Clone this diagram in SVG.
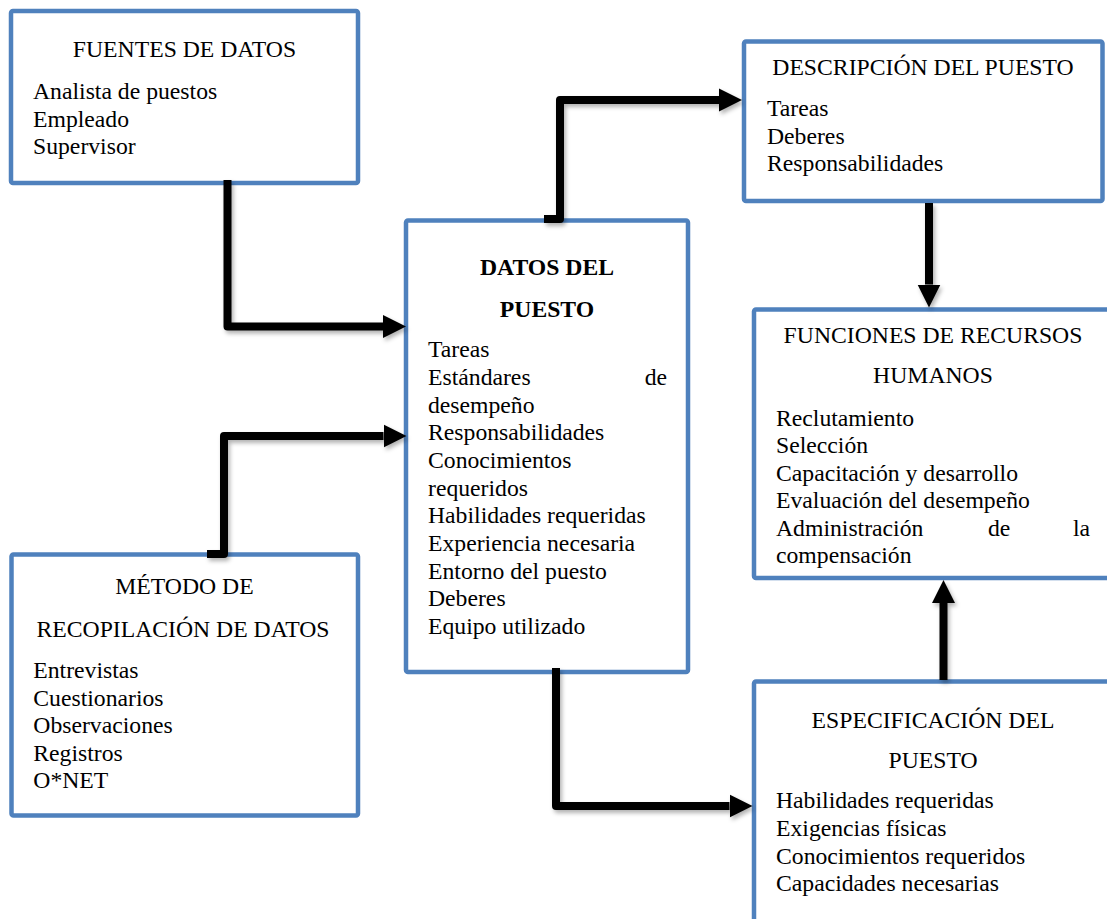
<svg xmlns="http://www.w3.org/2000/svg" width="1107" height="919" viewBox="0 0 1107 919">
<style>
  .box { fill: #ffffff; stroke: #4F81BD; stroke-width: 4.5; }
  text { font-family: "Liberation Serif", "Times New Roman", serif; font-size: 23.7px; fill: #000000; }
  .t { text-anchor: middle; }
  .b { font-weight: bold; }
  .end { text-anchor: end; }
  .conn { fill: none; stroke: #000000; stroke-width: 8; stroke-linejoin: round; stroke-linecap: butt; marker-end: url(#ah); }
</style>
<defs>
  <marker id="ah" markerUnits="userSpaceOnUse" markerWidth="24" markerHeight="24" viewBox="0 0 24 24" refX="0" refY="12" orient="auto">
    <path d="M0,0.5 L23,12 L0,23.5 Z" fill="#000000"/>
  </marker>
  <filter id="sh" x="-20%" y="-20%" width="140%" height="140%">
    <feDropShadow dx="2" dy="3" stdDeviation="2" flood-color="#000000" flood-opacity="0.3"/>
  </filter>
</defs>
<rect width="1107" height="919" fill="#ffffff"/>

<g id="fuentes">
  <rect class="box" x="11" y="11" width="347" height="172" rx="2"/>
  <text class="t" x="184.5" y="57">FUENTES DE DATOS</text>
  <text x="33" y="99">Analista de puestos</text>
  <text x="33" y="126.5">Empleado</text>
  <text x="33" y="154">Supervisor</text>
</g>

<g id="datos">
  <rect class="box" x="406" y="220.5" width="282" height="451.5" rx="2"/>
  <text class="t b" x="547" y="275">DATOS DEL</text>
  <text class="t b" x="547" y="317">PUESTO</text>
  <text x="428" y="357.3">Tareas</text>
  <text x="428" y="385">Estándares</text>
  <text class="end" x="667" y="385">de</text>
  <text x="428" y="412.6">desempeño</text>
  <text x="428" y="440.3">Responsabilidades</text>
  <text x="428" y="467.9">Conocimientos</text>
  <text x="428" y="495.6">requeridos</text>
  <text x="428" y="523.2">Habilidades requeridas</text>
  <text x="428" y="550.9">Experiencia necesaria</text>
  <text x="428" y="578.5">Entorno del puesto</text>
  <text x="428" y="606.2">Deberes</text>
  <text x="428" y="633.8">Equipo utilizado</text>
</g>

<g id="descripcion">
  <rect class="box" x="744" y="41.5" width="358.5" height="159.5" rx="2"/>
  <text class="t" x="923" y="75">DESCRIPCIÓN DEL PUESTO</text>
  <text x="767" y="116">Tareas</text>
  <text x="767" y="143.6">Deberes</text>
  <text x="767" y="171">Responsabilidades</text>
</g>

<g id="funciones">
  <rect class="box" x="754" y="309.5" width="400" height="268.5" rx="2"/>
  <text class="t" x="933" y="342.7">FUNCIONES DE RECURSOS</text>
  <text class="t" x="933" y="382.7">HUMANOS</text>
  <text x="776" y="426">Reclutamiento</text>
  <text x="776" y="453.4">Selección</text>
  <text x="776" y="480.8">Capacitación y desarrollo</text>
  <text x="776" y="508.2">Evaluación del desempeño</text>
  <text x="776" y="535.6">Administración</text>
  <text x="988" y="535.6">de</text>
  <text class="end" x="1090" y="535.6">la</text>
  <text x="776" y="563">compensación</text>
</g>

<g id="metodo">
  <rect class="box" x="11.5" y="554.5" width="346.5" height="261" rx="2"/>
  <text class="t" x="184.5" y="594.3">MÉTODO DE</text>
  <text class="t" x="183" y="636.7">RECOPILACIÓN DE DATOS</text>
  <text x="33.3" y="678.3">Entrevistas</text>
  <text x="33.3" y="705.7">Cuestionarios</text>
  <text x="33.3" y="733.2">Observaciones</text>
  <text x="33.3" y="760.6">Registros</text>
  <text x="33.3" y="788">O*NET</text>
</g>

<g id="especificacion">
  <rect class="box" x="754" y="681.5" width="400" height="400" rx="2"/>
  <text class="t" x="933" y="728.3">ESPECIFICACIÓN DEL</text>
  <text class="t" x="933" y="768.3">PUESTO</text>
  <text x="776" y="808.3">Habilidades requeridas</text>
  <text x="776" y="836">Exigencias físicas</text>
  <text x="776" y="863.7">Conocimientos requeridos</text>
  <text x="776" y="891.3">Capacidades necesarias</text>
</g>

<g id="connectors" filter="url(#sh)">
  <path class="conn" d="M227.5,180 L227.5,326.5 L383,326.5"/>
  <path class="conn" d="M207,554 L224,554 L224,436 L383.5,436"/>
  <path class="conn" d="M544,219 L560,219 L560,100 L719,100"/>
  <path class="conn" d="M556,668 L556,806 L729.5,806"/>
  <path class="conn" d="M929,203 L929,284.5"/>
  <path class="conn" d="M943.5,680 L943.5,603"/>
</g>
</svg>
